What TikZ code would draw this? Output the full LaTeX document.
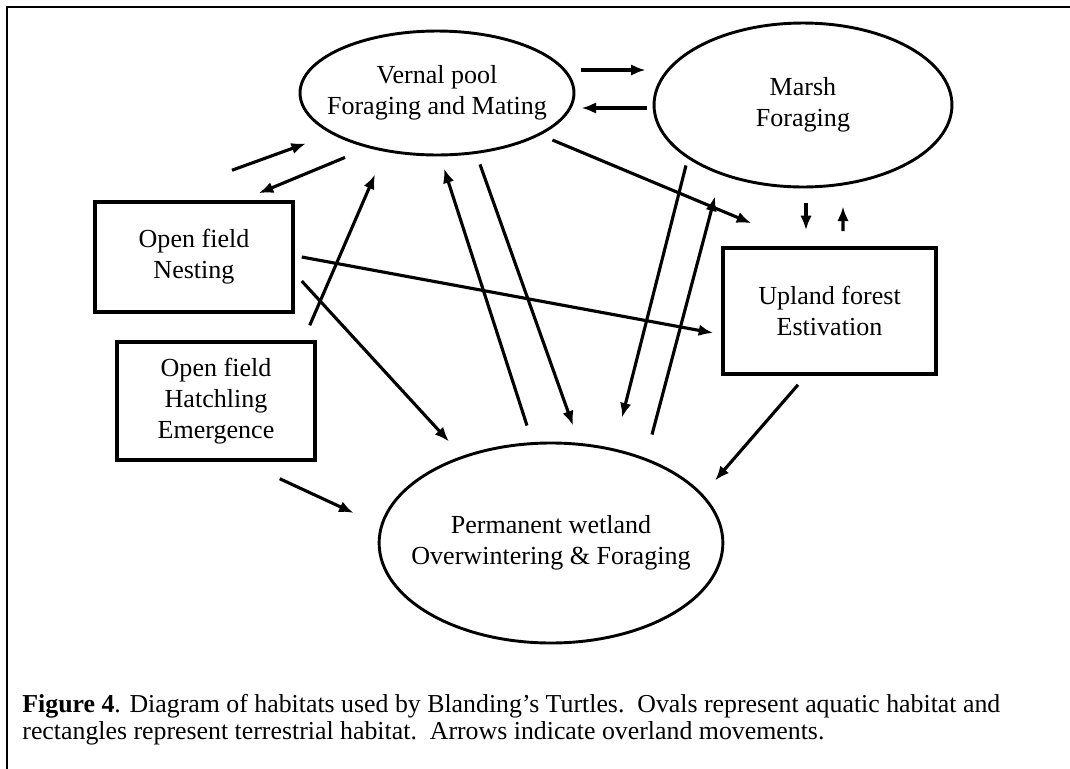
\documentclass[tikz,border=0pt]{standalone}
\usepackage{fontspec}
\setmainfont{Liberation Serif}
\usetikzlibrary{shapes,arrows.meta}
\tikzstyle{aquatic}=[ellipse, draw=black, line width=1.4pt, inner ysep=0pt, inner xsep=-40pt, align=center, font=\fontsize{12.5}{15}\selectfont]
\tikzstyle{terrestrial}=[rectangle, draw=black, line width=1.7pt, inner sep=0pt, align=center, font=\fontsize{12.5}{15}\selectfont]

\begin{document}
\begin{tikzpicture}[
        x=0.48pt, y=-0.48pt,
        line/.style={-{Latex[length=7pt,width=5.5pt]}, line width=1.5pt},
      ]
      \useasboundingbox (0,0) rectangle (1070,769);
      \draw [line width=1pt] (7,769) |- (1070,7);
      \node (Vernal) [aquatic, minimum width=131.5pt, minimum height=59.5pt] at (437,93)
            {Vernal pool\\Foraging and Mating};
      \node (Marsh) [aquatic, minimum width=143pt, minimum height=78.7pt] at (803,105)
            {Marsh\\Foraging};
      \node (Wetland) [aquatic, minimum width=165pt, minimum height=96pt] at (551,543)
            {Permanent wetland\\Overwintering \& Foraging};
      \node (Nesting) [terrestrial, minimum width=95pt, minimum height=52.8pt] at (194,257)
            {Open field\\Nesting};
      \node (Hatchling) [terrestrial, minimum width=95pt, minimum height=56.6pt] at (216,401)
            {Open field\\Hatchling\\Emergence};
      \node (Upland) [terrestrial, minimum width=102.2pt, minimum height=60.5pt] at (829.5,311)
            {Upland forest\\Estivation};
      \node (Caption) [anchor=base west, align=left, inner sep=0pt, font=\fontsize{12.4}{12.6}\selectfont] at (22,739)
            {\textbf{Figure 4}. Diagram of habitats used by Blanding’s Turtles.\ \ Ovals represent aquatic habitat and\\
             rectangles represent terrestrial habitat.\ \ Arrows indicate overland movements.};
      \draw [line] ([shift={(38,-30)}]Nesting.north) -- ([shift={(-131,-13)}]Vernal.south);
      \draw [line] ([shift={(-92,1)}]Vernal.south) -- ([shift={(-36,-7)}]Nesting.north east);
      \draw [line] ([shift={(-7,-15)}]Hatchling.north east) -- ([shift={(-62,18)}]Vernal.south);
      \draw [line] ([shift={(-24,-16)}]Wetland.north) -- ([shift={(7,12)}]Vernal.south);
      \draw [line] ([shift={(43,8)}]Vernal.south) -- ([shift={(22,-16)}]Wetland.north);
      \draw [line] ([shift={(-23,47)}]Vernal.east) -- ([shift={(30,-23)}]Upland.north west);
      \draw [line] ([shift={(6,-23)}]Vernal.east) -- ([shift={(-7,-35)}]Marsh.west);
      \draw [line] ([shift={(-6,3)}]Marsh.west) -- ([shift={(6,15)}]Vernal.east);
      \draw [line] ([shift={(-117,-23)}]Marsh.south) -- ([shift={(71,-24)}]Wetland.north);
      \draw [line] ([shift={(101,-7)}]Wetland.north) -- ([shift={(-88,8)}]Marsh.south);
      \draw [line] ([shift={(3,15)}]Marsh.south) -- ([shift={(-23.5,-16)}]Upland.north);
      \draw [line] ([shift={(13.5,-15)}]Upland.north) -- ([shift={(40,18)}]Marsh.south);
      \draw [line] ([shift={(7,0)}]Nesting.east) -- ([shift={(-8,22)}]Upland.west);
      \draw [line] ([shift={(7,24)}]Nesting.east) -- ([shift={(-102,0)}]Wetland.north);
      \draw [line] ([shift={(-37,17)}]Hatchling.south east) -- ([shift={(-24,-30)}]Wetland.west);
      \draw [line] ([shift={(-31.5,9)}]Upland.south) -- ([shift={(164,39)}]Wetland.north);
    \end{tikzpicture}
\end{document}
